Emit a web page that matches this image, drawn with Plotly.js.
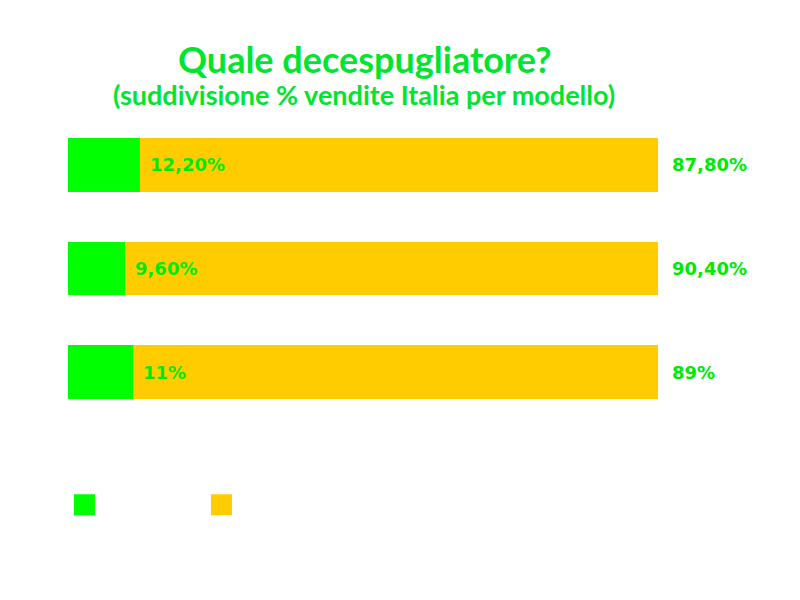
<!DOCTYPE html>
<html>
<head>
<meta charset="utf-8">
<script src="https://cdn.plot.ly/plotly-3.0.1.min.js"></script>
<style>
  html, body { margin: 0; padding: 0; background: #fff; }
  #chart { width: 800px; height: 600px; }
</style>
</head>
<body>
<div id="chart"></div>
<script>
// one row per model; names are not shown in the original
var models = ['Modello 1', 'Modello 2', 'Modello 3'];
var greenShare = [12.2, 9.6, 11];
var yellowShare = [87.8, 90.4, 89];
var greenLabels = ['12,20%', '9,60%', '11%'];
var yellowLabels = ['87,80%', '90,40%', '89%'];

var green = '#00ff00';
var yellow = '#ffcc00';
var titleGreen = '#00e52e';
var labelFont = { family: 'DejaVu Sans', size: 18, color: '#00ea00', weight: 'bold' };

var trace1 = {
    type: 'bar',
    orientation: 'h',
    y: models,
    x: greenShare,
    marker: { color: green },
    width: 0.52,
    showlegend: false,
    hoverinfo: 'x'
};
var trace2 = {
    type: 'bar',
    orientation: 'h',
    y: models,
    x: yellowShare,
    marker: { color: yellow },
    width: 0.52,
    showlegend: false,
    hoverinfo: 'x'
};

// legend-only entries (no visible point), so the keys can be bigger squares
function legendKey(color) {
    return {
        type: 'scatter',
        mode: 'markers',
        x: [null], y: [null],
        name: ' ',
        marker: { symbol: 'square', size: 16, color: color, line: { color: color, width: 5 } },
        showlegend: true,
        hoverinfo: 'skip'
    };
}

var annotations = [{
    xref: 'paper', yref: 'paper', x: 0.502, y: 1.061,
    xanchor: 'center', yanchor: 'middle', showarrow: false,
    text: '<b>(suddivisione % vendite Italia per modello)</b>',
    font: { family: 'Lato', size: 27, color: titleGreen }
}];
models.forEach(function (m, i) {
    annotations.push({
        x: greenShare[i], y: m, xref: 'x', yref: 'y',
        text: '<b>' + greenLabels[i] + '</b>', showarrow: false,
        xanchor: 'left', xshift: 8, font: labelFont
    });
    annotations.push({
        x: greenShare[i] + yellowShare[i], y: m, xref: 'x', yref: 'y',
        text: '<b>' + yellowLabels[i] + '</b>', showarrow: false,
        xanchor: 'left', xshift: 12, font: labelFont
    });
});

var layout = {
    width: 800,
    height: 600,
    paper_bgcolor: '#fff',
    plot_bgcolor: '#fff',
    barmode: 'stack',
    margin: { l: 68, r: 142, t: 113, b: 176 },
    title: {
        text: 'Quale decespugliatore?',
        font: { family: 'Lato', size: 36, color: titleGreen, weight: 'bold' },
        xref: 'container', x: 0.456, xanchor: 'center',
        yref: 'container', y: 0.9, yanchor: 'middle'
    },
    xaxis: {
        range: [0, 100],
        showgrid: false, zeroline: false, showticklabels: false,
        showline: false, ticks: ''
    },
    yaxis: {
        autorange: 'reversed',
        showgrid: false, zeroline: false, showticklabels: false,
        showline: false, ticks: ''
    },
    showlegend: true,
    legend: {
        orientation: 'h',
        x: -0.006, xanchor: 'left',
        y: -0.26, yanchor: 'middle',
        entrywidth: 92, entrywidthmode: 'pixels',
        traceorder: 'normal',
        font: { size: 16 }
    },
    annotations: annotations
};

Plotly.newPlot('chart', [trace1, trace2, legendKey(green), legendKey(yellow)], layout,
    { displayModeBar: false, staticPlot: true });
</script>
</body>
</html>
